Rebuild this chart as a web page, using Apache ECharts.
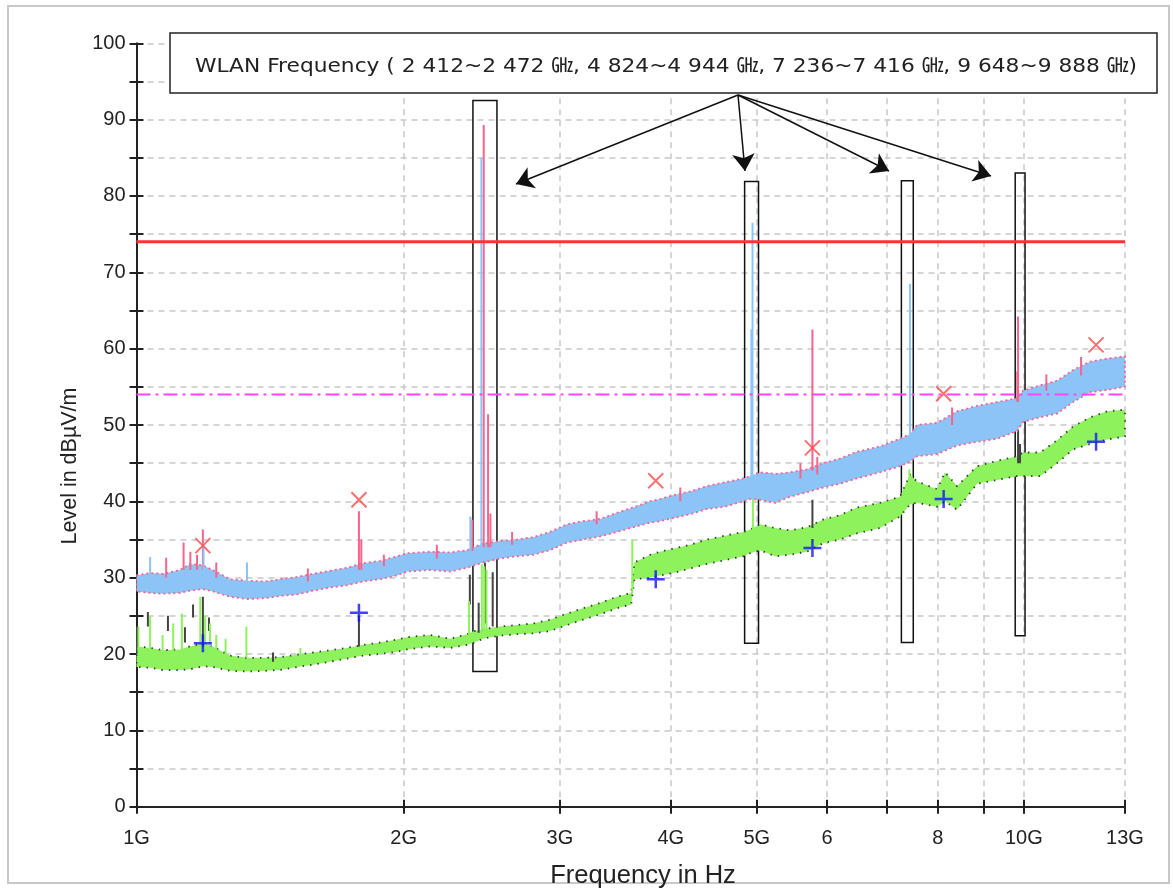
<!DOCTYPE html>
<html><head><meta charset="utf-8">
<script src="https://cdn.jsdelivr.net/npm/echarts@6/dist/echarts.min.js"></script>
<style>html,body{margin:0;padding:0;background:#fff}#c{width:1173px;height:891px}</style>
</head><body><div id="c"></div>
<script>
// ---------- data (frequencies in GHz, levels in dBµV/m) ----------
const xTickFreqs  = [1, 2, 3, 4, 5, 6, 7, 8, 9, 10, 13];
const xTickLabels = ['1G', '2G', '3G', '4G', '5G', '6', '', '8', '', '10G', '13G'];
const yTickStep = 5;
const peakLimit = 74;
const avgLimit = 54;

// peak trace band [freq, low, high]
const peakBand = [
 [1.0,28.2,30.3],[1.036,28.0,30.6],[1.071,27.9,30.5],[1.119,28.0,31.0],[1.149,28.3,31.8],
 [1.188,28.5,31.6],[1.219,28.2,31.0],[1.274,27.5,29.8],[1.332,27.2,29.6],[1.396,27.3,29.5],
 [1.451,27.6,29.8],[1.516,27.8,30.1],[1.581,28.3,30.5],[1.652,28.7,30.9],[1.727,29.0,31.3],
 [1.800,29.5,31.9],[1.881,29.8,32.2],[1.966,30.3,32.8],[2.018,30.8,33.2],[2.142,31.0,33.4],
 [2.256,30.8,33.3],[2.358,31.3,33.6],[2.401,31.6,34.0],[2.458,32.0,34.5],[2.503,32.2,34.6],
 [2.568,32.5,34.8],[2.684,32.8,35.0],[2.798,33.0,35.3],[2.924,33.6,36.0],[3.056,34.6,37.0],
 [3.186,35.0,37.4],[3.330,35.4,37.7],[3.479,36.0,38.5],[3.627,36.6,39.2],[3.791,37.2,40.0],
 [3.890,37.4,40.3],[4.024,37.8,40.8],[4.205,38.3,41.3],[4.395,39.0,42.0],[4.605,39.3,42.5],
 [4.826,40.0,43.0],[4.914,40.3,43.3],[5.043,40.2,43.8],[5.243,39.8,43.6],[5.451,40.6,43.8],
 [5.695,41.2,44.2],[5.937,41.8,45.0],[6.205,42.3,45.6],[6.485,43.0,46.5],[6.882,43.8,47.2],
 [7.250,44.6,48.2],[7.441,45.2,48.8],[7.578,45.9,50.0],[7.983,46.2,50.3],[8.407,47.3,51.8],
 [8.855,47.8,52.5],[9.326,48.2,53.0],[9.822,49.2,53.5],[9.977,50.4,54.5],[10.43,51.0,55.2],
 [10.90,51.5,55.8],[11.36,53.0,57.2],[11.87,54.3,58.3],[12.41,54.6,58.7],[13.0,55.0,59.0]
];
// average trace band [freq, low, high]
const avgBand = [
 [1.0,18.3,21.0],[1.036,18.2,20.8],[1.071,17.9,20.5],[1.119,17.9,20.6],[1.149,18.0,21.0],
 [1.188,18.4,21.4],[1.219,18.3,21.0],[1.274,17.8,19.8],[1.332,17.7,19.5],[1.396,17.8,19.5],
 [1.451,17.9,19.6],[1.516,18.3,19.9],[1.581,18.6,20.2],[1.652,19.0,20.5],[1.727,19.4,20.8],
 [1.800,19.8,21.2],[1.881,20.0,21.5],[1.966,20.3,21.9],[2.018,20.6,22.2],[2.142,21.0,22.5],
 [2.256,20.8,22.0],[2.358,21.2,22.6],[2.401,21.5,23.0],[2.458,22.0,23.2],[2.503,22.2,23.4],
 [2.568,22.4,23.6],[2.684,22.6,23.8],[2.798,22.7,24.0],[2.924,23.0,24.5],[3.056,23.8,25.3],
 [3.186,24.5,26.0],[3.330,25.2,26.7],[3.479,26.0,27.5],[3.610,26.5,28.0],[3.640,29.8,32.0],
 [3.791,30.0,33.0],[3.890,30.3,33.4],[4.024,30.6,33.8],[4.205,31.2,34.3],[4.395,31.8,35.0],
 [4.605,32.3,35.5],[4.826,32.8,36.0],[4.914,33.2,36.3],[5.043,33.6,37.0],[5.243,32.8,36.5],
 [5.451,33.0,36.2],[5.695,33.4,36.6],[5.937,34.5,37.6],[6.205,35.0,38.2],[6.485,35.8,39.2],
 [6.882,36.5,39.8],[7.250,38.0,40.6],[7.441,39.6,43.5],[7.578,39.8,42.6],[7.983,39.3,41.6],
 [8.150,40.0,43.8],[8.407,38.9,42.0],[8.855,42.3,44.6],[9.326,42.8,45.3],[9.822,43.3,45.9],
 [9.977,43.3,46.4],[10.43,43.3,46.4],[10.90,45.0,48.0],[11.36,46.8,49.8],[11.87,47.5,51.0],
 [12.41,48.1,51.8],[13.0,48.5,52.0]
];
// spikes [freq, from, to]
const pinkSpikes = [
 [1.080,30,32.6],[1.130,31,34.6],[1.150,31,33.4],[1.170,31,33.0],[1.188,31,36.3],[1.230,30,32.0],
 [1.560,29.5,31.2],[1.781,31,38.7],[1.792,31,35.0],[1.900,31.5,33.0],[2.180,32.5,34.3],
 [2.390,33.5,37.6],[2.462,34,89.3],[2.490,34,51.4],[2.505,34,38.4],[2.650,34.3,36.0],
 [3.300,37,38.7],[4.100,40,41.8],[5.600,43,45.0],[5.777,44,62.5],[5.850,43.5,45.8],
 [8.300,50,52.3],[9.830,53,57.0],[9.850,53,64.2],[10.60,54.5,56.6],[11.60,56.5,58.9]
];
const blueSpikes = [
 [1.036,30,32.7],[1.190,31,34.5],[1.332,29,32.0],[2.378,33.5,38.0],[2.447,34,85.0],
 [4.930,43,62.5],[4.945,43,76.5],[7.440,48,68.5]
];
const graySpikes = [
 [1.000,20,23.5],[1.030,23.6,25.5],[1.085,23,25.0],[1.134,21.5,23.5],[1.158,24.8,26.5],
 [1.188,21,27.5],[1.207,23,24.8],[1.425,19,20.2],[1.781,21,25.0],
 [2.375,26.5,30.4],[2.430,22.8,26.7],[2.470,24,32.0],[2.520,23.6,30.7],
 [5.777,36.5,40.2],[9.850,45,49.4],[9.900,45,47.5]
];
const greenSpikes = [
 [1.005,20.5,23.6],[1.036,20.5,24.9],[1.070,20.5,22.5],[1.100,20.5,24.0],[1.125,20.5,25.3],
 [1.180,21,27.5],[1.195,21,25.0],[1.210,21,24.0],[1.230,20,22.5],[1.260,19.5,22.0],
 [1.330,19.5,23.6],[1.530,19.5,20.8],[2.370,22.5,26.9],[2.450,23,31.8],
 [2.465,23,31.5],[2.480,23,31.0],[3.620,28,35.0],[4.950,36,41.5],[7.430,40,44.2]
];
// final measurement markers [freq, level]
const peakMarkers = [[1.188,34.2],[1.781,40.2],[3.847,42.7],[5.777,47.0],[8.12,54.1],[12.06,60.5]];
const avgMarkers  = [[1.188,21.4],[1.781,25.4],[3.847,29.8],[5.777,33.9],[8.12,40.3],[12.06,47.8]];
// WLAN highlight boxes [fLow, fHigh, levelLow, levelHigh]
const wlanBoxes = [[2.394,2.548,17.7,92.5],[4.845,5.023,21.4,81.9],[7.277,7.505,21.5,82.0],[9.777,10.03,22.4,83.0]];
const noteText = 'WLAN Frequency ( 2 412~2 472 ㎓, 4 824~4 944 ㎓, 7 236~7 416 ㎓, 9 648~9 888 ㎓)';
const xName = 'Frequency in Hz';
const yName = 'Level in dBµV/m';

// ---------- chart ----------
const lg = f => Math.log10(f);
const xMin = lg(xTickFreqs[0]), xMax = lg(xTickFreqs[xTickFreqs.length - 1]);
const tickVals = xTickFreqs.map(lg);
const labelFor = v => { for (let i = 0; i < tickVals.length; i++) if (Math.abs(tickVals[i] - v) < 1e-6) return xTickLabels[i]; return ''; };
const FONT = 'Liberation Sans, Arial, sans-serif';
const AX = '#222';

// note text: fit its width to the box like the reference (about 942 px)
const NOTE_FONT = '19px "DejaVu Sans", "Noto Sans CJK KR"';
const mctx = document.createElement('canvas').getContext('2d');
mctx.font = NOTE_FONT;
const noteScale = 942 / mctx.measureText(noteText).width;

function bandSeries(band, fill, stroke, lineWidth, dash, z) {
  const d = band.map(p => [lg(p[0]), p[1], p[2]]);
  return {
    type: 'custom', z, silent: true, clip: true,
    data: d, encode: { x: 0, y: [1, 2] },
    renderItem: (params, api) => {
      if (params.dataIndex !== 0) return null;
      const pts = [];
      for (const p of d) pts.push(api.coord([p[0], p[2]]));
      for (let i = d.length - 1; i >= 0; i--) pts.push(api.coord([d[i][0], d[i][1]]));
      return { type: 'polygon', shape: { points: pts }, style: { fill, stroke, lineWidth, lineDash: dash } };
    }
  };
}
function spikeSeries(spikes, color, w, z) {
  return {
    type: 'custom', z, silent: true, clip: true,
    data: spikes.map(p => [lg(p[0]), p[1], p[2]]), encode: { x: 0, y: [1, 2] },
    renderItem: (params, api) => {
      const a = api.coord([api.value(0), api.value(1)]);
      const b = api.coord([api.value(0), api.value(2)]);
      return { type: 'line', shape: { x1: a[0], y1: a[1], x2: b[0], y2: b[1] }, style: { stroke: color, lineWidth: w } };
    }
  };
}

const chart = echarts.init(document.getElementById('c'), null, { renderer: 'canvas' });
const gridLine = { show: true, lineStyle: { color: '#c8c8c8', width: 1.5, type: [6, 5] } };
chart.setOption({
  animation: false,
  backgroundColor: '#fff',
  grid: { left: 136.5, right: 48, top: 43.3, bottom: 84.3 },
  xAxis: [
    { type: 'value', min: xMin, max: xMax, position: 'bottom',
      axisLine: { lineStyle: { color: AX, width: 2 } },
      axisTick: { customValues: tickVals, length: 7, lineStyle: { color: AX, width: 2 } },
      axisLabel: { customValues: tickVals, formatter: labelFor, color: AX, fontSize: 20, fontFamily: FONT, margin: 22 },
      splitLine: gridLine },
    { type: 'value', min: xMin, max: xMax, position: 'bottom',
      axisLine: { show: false },
      axisTick: { inside: true, customValues: tickVals, length: 7, lineStyle: { color: AX, width: 2 } },
      axisLabel: { show: false }, splitLine: { show: false } }
  ],
  yAxis: [
    { type: 'value', min: 0, max: 100, interval: yTickStep, position: 'left',
      axisLine: { show: true, lineStyle: { color: AX, width: 2 } },
      axisTick: { show: true, length: 7, lineStyle: { color: AX, width: 2 } },
      axisLabel: { formatter: v => (v % 10 === 0 ? String(v) : ''), color: AX, fontSize: 20, fontFamily: FONT, margin: 11 },
      splitLine: gridLine },
    { type: 'value', min: 0, max: 100, interval: yTickStep, position: 'left',
      axisLine: { show: false },
      axisTick: { show: true, inside: true, length: 7, lineStyle: { color: AX, width: 2 } },
      axisLabel: { show: false }, splitLine: { show: false } }
  ],
  series: [
    bandSeries(avgBand, '#8df25c', '#3a3a3a', 1.8, [1.5, 6], 3),
    spikeSeries(graySpikes, '#444', 2, 4),
    spikeSeries(greenSpikes, '#8df25c', 2, 5),
    bandSeries(peakBand, '#8cc4f8', '#f7648c', 1.8, [2, 3], 6),
    spikeSeries(pinkSpikes, '#f7648c', 2, 7),
    spikeSeries(blueSpikes, '#8cc4f8', 2, 8),
    { type: 'line', z: 9, silent: true, symbol: 'none', data: [[xMin, peakLimit], [xMax, peakLimit]],
      lineStyle: { color: '#ff3333', width: 3 } },
    { type: 'line', z: 9, silent: true, symbol: 'none', data: [[xMin, avgLimit], [xMax, avgLimit]],
      lineStyle: { color: '#ff44ff', width: 2, type: [14, 5, 3, 5] },
      markArea: { silent: true, itemStyle: { color: 'rgba(0,0,0,0)', borderColor: '#111', borderWidth: 1.5 },
        data: wlanBoxes.map(b => [{ xAxis: lg(b[0]), yAxis: b[2] }, { xAxis: lg(b[1]), yAxis: b[3] }]) },
      markLine: { silent: true, symbol: ['none', 'arrow'], symbolSize: 17, label: { show: false },
        lineStyle: { color: '#111', width: 1.5, type: 'solid' },
        data: [
          [{ x: 738, y: 95 }, { x: 516, y: 184 }],
          [{ x: 738, y: 95 }, { x: 745, y: 171 }],
          [{ x: 738, y: 95 }, { x: 889, y: 171 }],
          [{ x: 738, y: 95 }, { x: 991, y: 176 }]
        ] } },
    { type: 'scatter', z: 10, silent: true, data: peakMarkers.map(p => [lg(p[0]), p[1]]),
      symbol: 'path://M0,0L10,10M10,0L0,10', symbolSize: 15,
      itemStyle: { color: 'rgba(0,0,0,0)', borderColor: '#ff4a4a', borderWidth: 2 } },
    { type: 'scatter', z: 10, silent: true, data: avgMarkers.map(p => [lg(p[0]), p[1]]),
      symbol: 'path://M5,0L5,10M0,5L10,5', symbolSize: 18,
      itemStyle: { color: 'rgba(0,0,0,0)', borderColor: '#1414ff', borderWidth: 2.5 } }
  ],
  graphic: [
    { type: 'rect', z: -1, silent: true, shape: { x: 8, y: 6, width: 1161, height: 877 },
      style: { fill: 'none', stroke: '#c8c8c8', lineWidth: 2 } },
    { type: 'rect', z: 100, silent: true, shape: { x: 170, y: 33, width: 987, height: 60 },
      style: { fill: '#fff', stroke: '#222', lineWidth: 1.5 } },
    { type: 'text', z: 101, silent: true, x: 195, y: 67, scaleX: noteScale,
      style: { text: noteText, fill: '#222', font: NOTE_FONT, verticalAlign: 'middle', align: 'left' } },
    { type: 'text', z: 101, silent: true, x: 70, y: 466, rotation: Math.PI / 2,
      style: { text: yName, fill: '#222', font: '21.5px ' + FONT, verticalAlign: 'middle', align: 'center' } },
    { type: 'text', z: 101, silent: true, x: 643, y: 876,
      style: { text: xName, fill: '#222', font: '25.5px ' + FONT, verticalAlign: 'middle', align: 'center' } }
  ]
});
</script></body></html>
